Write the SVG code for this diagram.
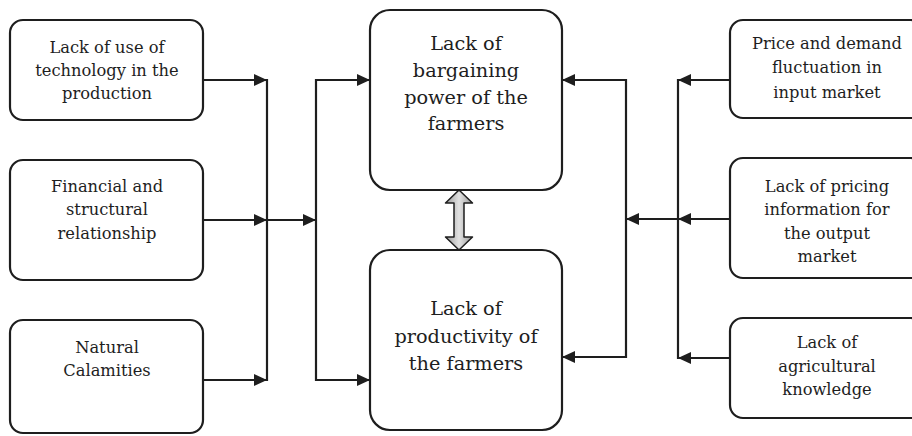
<svg xmlns="http://www.w3.org/2000/svg" width="912" height="436" viewBox="0 0 912 436">
<style>
.box{fill:#ffffff;stroke:#1e1e1e;stroke-width:2.2}
.t{font-family:"DejaVu Serif",serif;fill:#1e1e1e;text-anchor:middle}
.s{font-size:16.3px}
.l{font-size:19.3px}
.c{fill:none;stroke:#1e1e1e;stroke-width:2.2}
.a{marker-end:url(#ah)}
</style>
<defs>
<marker id="ah" markerUnits="userSpaceOnUse" viewBox="0 0 13 12" markerWidth="13" markerHeight="12" refX="13" refY="6" orient="auto">
<path d="M0,0 L13,6 L0,12 z" fill="#1e1e1e"/>
</marker>
<linearGradient id="g" x1="0" y1="0" x2="1" y2="0">
<stop offset="0" stop-color="#9a9a9a"/>
<stop offset="0.5" stop-color="#e2e2e2"/>
<stop offset="1" stop-color="#9a9a9a"/>
</linearGradient>
</defs>
<rect width="912" height="436" fill="#ffffff"/>

<g id="connectors">
<line class="c a" x1="203" y1="80" x2="267" y2="80"/>
<line class="c a" x1="203" y1="220" x2="267" y2="220"/>
<line class="c a" x1="203" y1="380" x2="267" y2="380"/>
<line class="c" x1="267" y1="79" x2="267" y2="381"/>
<line class="c a" x1="267" y1="220" x2="316" y2="220"/>
<line class="c" x1="316" y1="79" x2="316" y2="381"/>
<line class="c a" x1="316" y1="80" x2="370" y2="80"/>
<line class="c a" x1="316" y1="380" x2="370" y2="380"/>
<line class="c a" x1="730" y1="80" x2="678" y2="80"/>
<line class="c a" x1="730" y1="219" x2="678" y2="219"/>
<line class="c a" x1="730" y1="358" x2="678" y2="358"/>
<line class="c" x1="678" y1="79" x2="678" y2="359"/>
<line class="c a" x1="678" y1="219" x2="626" y2="219"/>
<line class="c" x1="626" y1="79" x2="626" y2="358"/>
<line class="c a" x1="626" y1="80" x2="562" y2="80"/>
<line class="c a" x1="626" y1="357" x2="562" y2="357"/>
<path d="M459,190 L472.5,203 L464,203 L464,237 L472.5,237 L459,250 L445.5,237 L454,237 L454,203 L445.5,203 Z" fill="url(#g)" stroke="#1e1e1e" stroke-width="1.5" stroke-linejoin="round"/>
</g>

<g id="n1">
<rect class="box" x="10" y="20" width="193" height="100" rx="13"/>
<text class="t s" x="107" y="53">Lack of use of</text>
<text class="t s" x="107" y="76">technology in the</text>
<text class="t s" x="107" y="99">production</text>
</g>
<g id="n2">
<rect class="box" x="10" y="160" width="193" height="120" rx="13"/>
<text class="t s" x="107" y="192">Financial and</text>
<text class="t s" x="107" y="215">structural</text>
<text class="t s" x="107" y="239">relationship</text>
</g>
<g id="n3">
<rect class="box" x="10" y="320" width="193" height="113" rx="13"/>
<text class="t s" x="107" y="353">Natural</text>
<text class="t s" x="107" y="376">Calamities</text>
</g>
<g id="n4">
<rect class="box" x="370" y="10" width="192" height="180" rx="20"/>
<text class="t l" x="466" y="50">Lack of</text>
<text class="t l" x="466" y="77">bargaining</text>
<text class="t l" x="466" y="104">power of the</text>
<text class="t l" x="466" y="130">farmers</text>
</g>
<g id="n5">
<rect class="box" x="370" y="250" width="192" height="180" rx="20"/>
<text class="t l" x="466" y="315">Lack of</text>
<text class="t l" x="466" y="343">productivity of</text>
<text class="t l" x="466" y="370">the farmers</text>
</g>
<g id="n6">
<rect class="box" x="730" y="20" width="194" height="98" rx="13"/>
<text class="t s" x="827" y="49">Price and demand</text>
<text class="t s" x="827" y="73">fluctuation in</text>
<text class="t s" x="827" y="98">input market</text>
</g>
<g id="n7">
<rect class="box" x="730" y="158" width="194" height="120" rx="13"/>
<text class="t s" x="827" y="192">Lack of pricing</text>
<text class="t s" x="827" y="215">information for</text>
<text class="t s" x="827" y="239">the output</text>
<text class="t s" x="827" y="262">market</text>
</g>
<g id="n8">
<rect class="box" x="730" y="318" width="194" height="100" rx="13"/>
<text class="t s" x="827" y="348">Lack of</text>
<text class="t s" x="827" y="372">agricultural</text>
<text class="t s" x="827" y="395">knowledge</text>
</g>
</svg>
